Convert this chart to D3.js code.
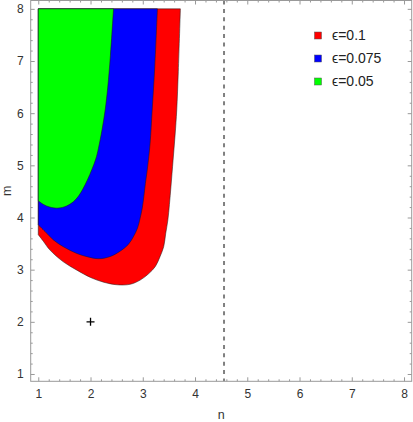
<!DOCTYPE html>
<html>
<head>
<meta charset="utf-8">
<script src="https://cdn.jsdelivr.net/npm/d3@7"></script>
<style>
  body { margin: 0; background: #fff; }
  svg { display: block; }
  .tick text { font-family: "Liberation Sans", Arial, sans-serif; font-size: 12px; fill: #333; }
  .axisText { font-family: "Liberation Sans", Arial, sans-serif; font-size: 12.5px; fill: #333; }
  .legendText { font-family: "Liberation Sans", Arial, sans-serif; font-size: 14px; fill: #222; }
</style>
</head>
<body>
<div id="chart"></div>
<script>
// tick values
var nTicks = [1, 2, 3, 4, 5, 6, 7, 8];
var mTicks = [1, 2, 3, 4, 5, 6, 7, 8];

// region boundaries [n, m] (left edge at n = 1, top at m = 8)
var redBoundary = [[1, 3.67], [1.10, 3.54], [1.22, 3.38], [1.48, 3.15], [1.74, 2.99], [2.0, 2.85],
  [2.25, 2.76], [2.51, 2.71], [2.76, 2.72], [2.95, 2.80], [3.11, 2.92], [3.24, 3.06], [3.33, 3.25],
  [3.40, 3.44], [3.44, 3.70], [3.48, 3.95], [3.51, 4.25], [3.54, 4.6], [3.58, 5.10], [3.62, 5.6],
  [3.65, 6.06], [3.68, 6.8], [3.72, 8]];
var blueBoundary = [[1, 3.86], [1.13, 3.73], [1.29, 3.57], [1.48, 3.44], [1.74, 3.31], [1.93, 3.25],
  [2.16, 3.21], [2.37, 3.25], [2.56, 3.35], [2.72, 3.48], [2.82, 3.63], [2.90, 3.80], [2.95, 3.99],
  [2.99, 4.18], [3.02, 4.40], [3.05, 4.65], [3.09, 4.95], [3.14, 5.42], [3.18, 6.06], [3.23, 6.9], [3.28, 8]];
var greenBoundary = [[1, 4.32], [1.10, 4.25], [1.22, 4.20], [1.38, 4.18], [1.54, 4.22], [1.67, 4.30],
  [1.77, 4.41], [1.85, 4.54], [1.94, 4.72], [2.03, 4.93], [2.10, 5.12], [2.15, 5.32], [2.22, 5.68],
  [2.28, 6.06], [2.33, 6.5], [2.38, 7.1], [2.44, 8]];

var legendLabels = ["\u03f5=0.1", "\u03f5=0.075", "\u03f5=0.05"];
var regionColors = ["#ff0000", "#0000ff", "#00ff00"];

var criticalN = 4.555;      // dashed vertical line
var markPoint = [2, 2];     // the "+" mark

var svgWidth = 413;
var svgHeight = 422;

var frame = { left: 30.7, right: 411.7, top: 0.5, bottom: 381.3 };

var svg = d3.select("#chart")
  .append("svg")
  .attr("width", svgWidth)
  .attr("height", svgHeight);

var x = d3.scaleLinear().domain([0.855, 8.147]).range([frame.left, frame.right]);
var y = d3.scaleLinear().domain([0.86, 8.16]).range([frame.bottom, frame.top]);

// regions: red first (largest), then blue and green on top
var curve = d3.line()
  .x(function(d) { return x(d[0]); })
  .y(function(d) { return y(d[1]); })
  .curve(d3.curveCatmullRom.alpha(0.5));

function regionPath(boundary) {
  var c = curve(boundary);
  return "M" + x(1) + "," + y(8) + "L" + c.slice(1) + "Z";
}

var regions = [redBoundary, blueBoundary, greenBoundary];
svg.append("g")
  .selectAll("path")
  .data(regions)
  .enter().append("path")
    .attr("d", regionPath)
    .attr("fill", function(d, i) { return regionColors[i]; })
    .attr("stroke", "#1a1a1a")
    .attr("stroke-opacity", 0.75)
    .attr("stroke-width", 0.7)
    .attr("stroke-linejoin", "round");

// dashed line
svg.append("line")
  .attr("x1", x(criticalN)).attr("x2", x(criticalN))
  .attr("y1", frame.top).attr("y2", frame.bottom)
  .attr("stroke", "#808080")
  .attr("stroke-width", 2)
  .attr("stroke-dasharray", "4,4.4");

// "+" mark
var px = x(markPoint[0]), py = y(markPoint[1]);
svg.append("path")
  .attr("d", "M" + (px - 4) + "," + py + "H" + (px + 4) + "M" + px + "," + (py - 4) + "V" + (py + 4))
  .attr("stroke", "#000")
  .attr("stroke-width", 1.3);

// minor tick values
var minorN = d3.range(0.8, 8.2001, 0.2).filter(function(v) { return v >= 0.855 && v <= 8.147 && Math.abs(v - Math.round(v)) > 0.01; });
var minorM = d3.range(0.8, 8.2001, 0.2).filter(function(v) { return v >= 0.86 && v <= 8.16 && Math.abs(v - Math.round(v)) > 0.01; });

function styleAxis(g) {
  g.select(".domain").remove();
  g.selectAll(".tick line").attr("stroke", "#999");
}

// bottom
svg.append("g").attr("transform", "translate(0," + frame.bottom + ")")
  .call(d3.axisBottom(x).tickValues(nTicks).tickSizeInner(-4).tickSizeOuter(0).tickPadding(8).tickFormat(d3.format("d")))
  .call(styleAxis);
svg.append("g").attr("transform", "translate(0," + frame.bottom + ")")
  .call(d3.axisBottom(x).tickValues(minorN).tickSizeInner(-2).tickSizeOuter(0).tickFormat(""))
  .call(styleAxis);
// top
svg.append("g").attr("transform", "translate(0," + frame.top + ")")
  .call(d3.axisTop(x).tickValues(nTicks).tickSizeInner(-4).tickSizeOuter(0).tickFormat(""))
  .call(styleAxis);
svg.append("g").attr("transform", "translate(0," + frame.top + ")")
  .call(d3.axisTop(x).tickValues(minorN).tickSizeInner(-2).tickSizeOuter(0).tickFormat(""))
  .call(styleAxis);
// left
svg.append("g").attr("transform", "translate(" + frame.left + ",0)")
  .call(d3.axisLeft(y).tickValues(mTicks).tickSizeInner(-4).tickSizeOuter(0).tickPadding(7).tickFormat(d3.format("d")))
  .call(styleAxis);
svg.append("g").attr("transform", "translate(" + frame.left + ",0)")
  .call(d3.axisLeft(y).tickValues(minorM).tickSizeInner(-2).tickSizeOuter(0).tickFormat(""))
  .call(styleAxis);
// right
svg.append("g").attr("transform", "translate(" + frame.right + ",0)")
  .call(d3.axisRight(y).tickValues(mTicks).tickSizeInner(-4).tickSizeOuter(0).tickFormat(""))
  .call(styleAxis);
svg.append("g").attr("transform", "translate(" + frame.right + ",0)")
  .call(d3.axisRight(y).tickValues(minorM).tickSizeInner(-2).tickSizeOuter(0).tickFormat(""))
  .call(styleAxis);

// frame
svg.append("rect")
  .attr("x", frame.left).attr("y", frame.top)
  .attr("width", frame.right - frame.left)
  .attr("height", frame.bottom - frame.top)
  .attr("fill", "none")
  .attr("stroke", "#999")
  .attr("stroke-width", 1);

// axis labels
svg.append("text")
  .attr("class", "axisText")
  .attr("x", (frame.left + frame.right) / 2)
  .attr("y", 419)
  .attr("text-anchor", "middle")
  .text("n");

svg.append("text")
  .attr("class", "axisText")
  .attr("transform", "translate(11," + ((frame.top + frame.bottom) / 2) + ") rotate(-90)")
  .attr("text-anchor", "middle")
  .text("m");

// legend
var legend = svg.append("g").selectAll("g")
  .data(legendLabels)
  .enter().append("g")
    .attr("transform", function(d, i) { return "translate(318," + (35.5 + i * 23) + ")"; });

legend.append("rect")
  .attr("x", -3.5).attr("y", -3.5)
  .attr("width", 7).attr("height", 7)
  .attr("fill", function(d, i) { return regionColors[i]; })
  .attr("stroke", "#555")
  .attr("stroke-width", 0.5);

legend.append("text")
  .attr("class", "legendText")
  .attr("x", 14)
  .attr("y", 4)
  .text(function(d) { return d; });
</script>
</body>
</html>
